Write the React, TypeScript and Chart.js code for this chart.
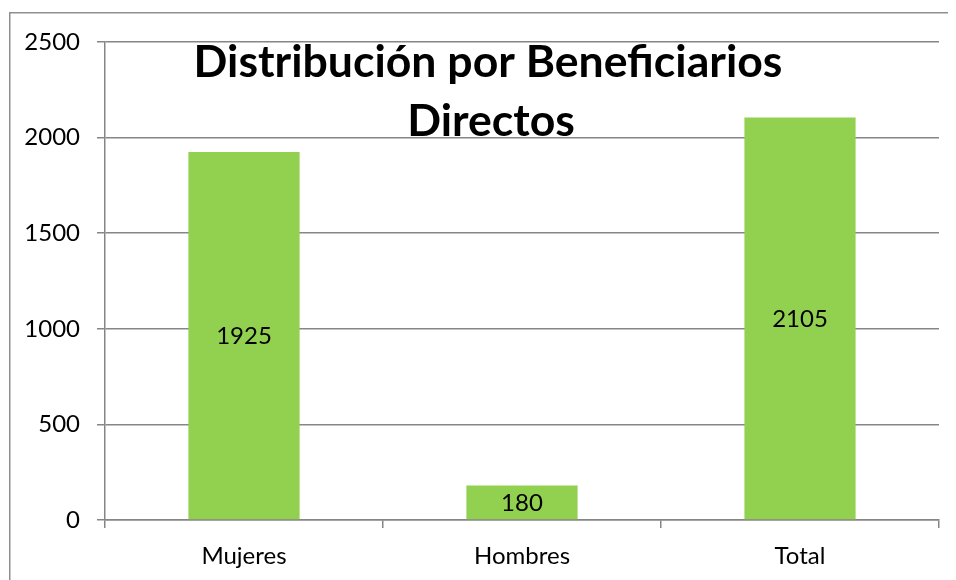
import React, { useEffect, useRef } from "react";
import { Chart, registerables } from "chart.js";

Chart.register(...registerables);

const categories = ["Mujeres", "Hombres", "Total"];
const values = [1925, 180, 2105];
const yTicks = [0, 500, 1000, 1500, 2000, 2500];
const titleLines = ["Distribución por Beneficiarios", "Directos"];

const GRID = "#868686";
const BAR = "#92D050";
const FONT = "Lato, 'Open Sans', sans-serif";

export default function App() {
  const ref = useRef<HTMLCanvasElement | null>(null);
  useEffect(() => {
    document.body.style.overflow = "hidden";
    if (!ref.current) return;
    const borderPlugin = {
      id: "outerBorder",
      beforeDraw(chart: any) {
        const ctx = chart.ctx;
        const W = chart.width;
        const H = chart.height;
        ctx.save();
        ctx.fillStyle = "#8f8f8f";
        ctx.fillRect(1, 4, 1.5, H - 4);
        ctx.fillRect(1, 4, W - 1, 1.5);
        ctx.restore();
      },
    };
    const labelPlugin = {
      id: "barLabels",
      afterDatasetsDraw(chart: any) {
        const ctx = chart.ctx;
        const meta = chart.getDatasetMeta(0);
        ctx.save();
        ctx.font = `24px ${FONT}`;
        ctx.fillStyle = "#000";
        ctx.textAlign = "center";
        ctx.textBaseline = "middle";
        meta.data.forEach((el: any, i: number) => {
          const p = el.getCenterPoint();
          ctx.fillText(String(values[i]), p.x, p.y + 1);
        });
        ctx.restore();
      },
    };
    const titlePlugin = {
      id: "bigTitle",
      afterDraw(chart: any) {
        const ctx = chart.ctx;
        const area = chart.chartArea;
        ctx.save();
        ctx.fillStyle = "#000";
        ctx.textAlign = "center";
        ctx.textBaseline = "alphabetic";
        ctx.font = `bold 40px ${FONT}`;
        const w = ctx.measureText(titleLines[0]).width;
        const size = (40 * 589) / w;
        ctx.font = `bold ${size}px ${FONT}`;
        const cx = chart.width / 2 + 6;
        ctx.fillText(titleLines[0], cx, area.top + 35);
        ctx.fillText(titleLines[1], cx + 3, area.top + 94);
        ctx.restore();
      },
    };
    const chart = new Chart(ref.current, {
      type: "bar",
      data: {
        labels: categories,
        datasets: [
          {
            data: values,
            backgroundColor: BAR,
            borderWidth: 0,
            categoryPercentage: 1,
            barPercentage: 0.4,
          },
        ],
      },
      options: {
        animation: false,
        responsive: false,
        maintainAspectRatio: false,
        layout: { padding: { top: 34, right: 17, left: 0, bottom: 0 } },
        plugins: {
          legend: { display: false },
          title: { display: false },
          tooltip: { enabled: false },
        },
        scales: {
          x: {
            grid: {
              display: true,
              drawOnChartArea: false,
              drawTicks: true,
              tickLength: 8,
              color: GRID,
              lineWidth: 1.5,
            },
            border: { display: true, color: GRID, width: 1.5 },
            ticks: {
              color: "#000",
              font: { family: FONT, size: 24 },
              padding: 14,
            },
            afterFit(scale: any) {
              scale.height = 60;
            },
          },
          y: {
            min: 0,
            max: 2500,
            afterBuildTicks(scale: any) {
              scale.ticks = yTicks.map((v) => ({ value: v }));
            },
            grid: {
              color: GRID,
              lineWidth: 1.5,
              tickLength: 8,
              drawTicks: true,
            },
            border: { display: true, color: GRID, width: 1.5 },
            ticks: {
              color: "#000",
              font: { family: FONT, size: 24 },
              padding: 17,
              callback: (v: any) => String(v),
            },
            afterFit(scale: any) {
              scale.width = 97;
            },
          },
        },
      },
      plugins: [borderPlugin, labelPlugin, titlePlugin],
    });
    return () => chart.destroy();
  }, []);
  return (
    <div style={{ width: 948, height: 572 }}>
      <canvas ref={ref} width={948} height={572} style={{ display: "block" }} />
    </div>
  );
}
